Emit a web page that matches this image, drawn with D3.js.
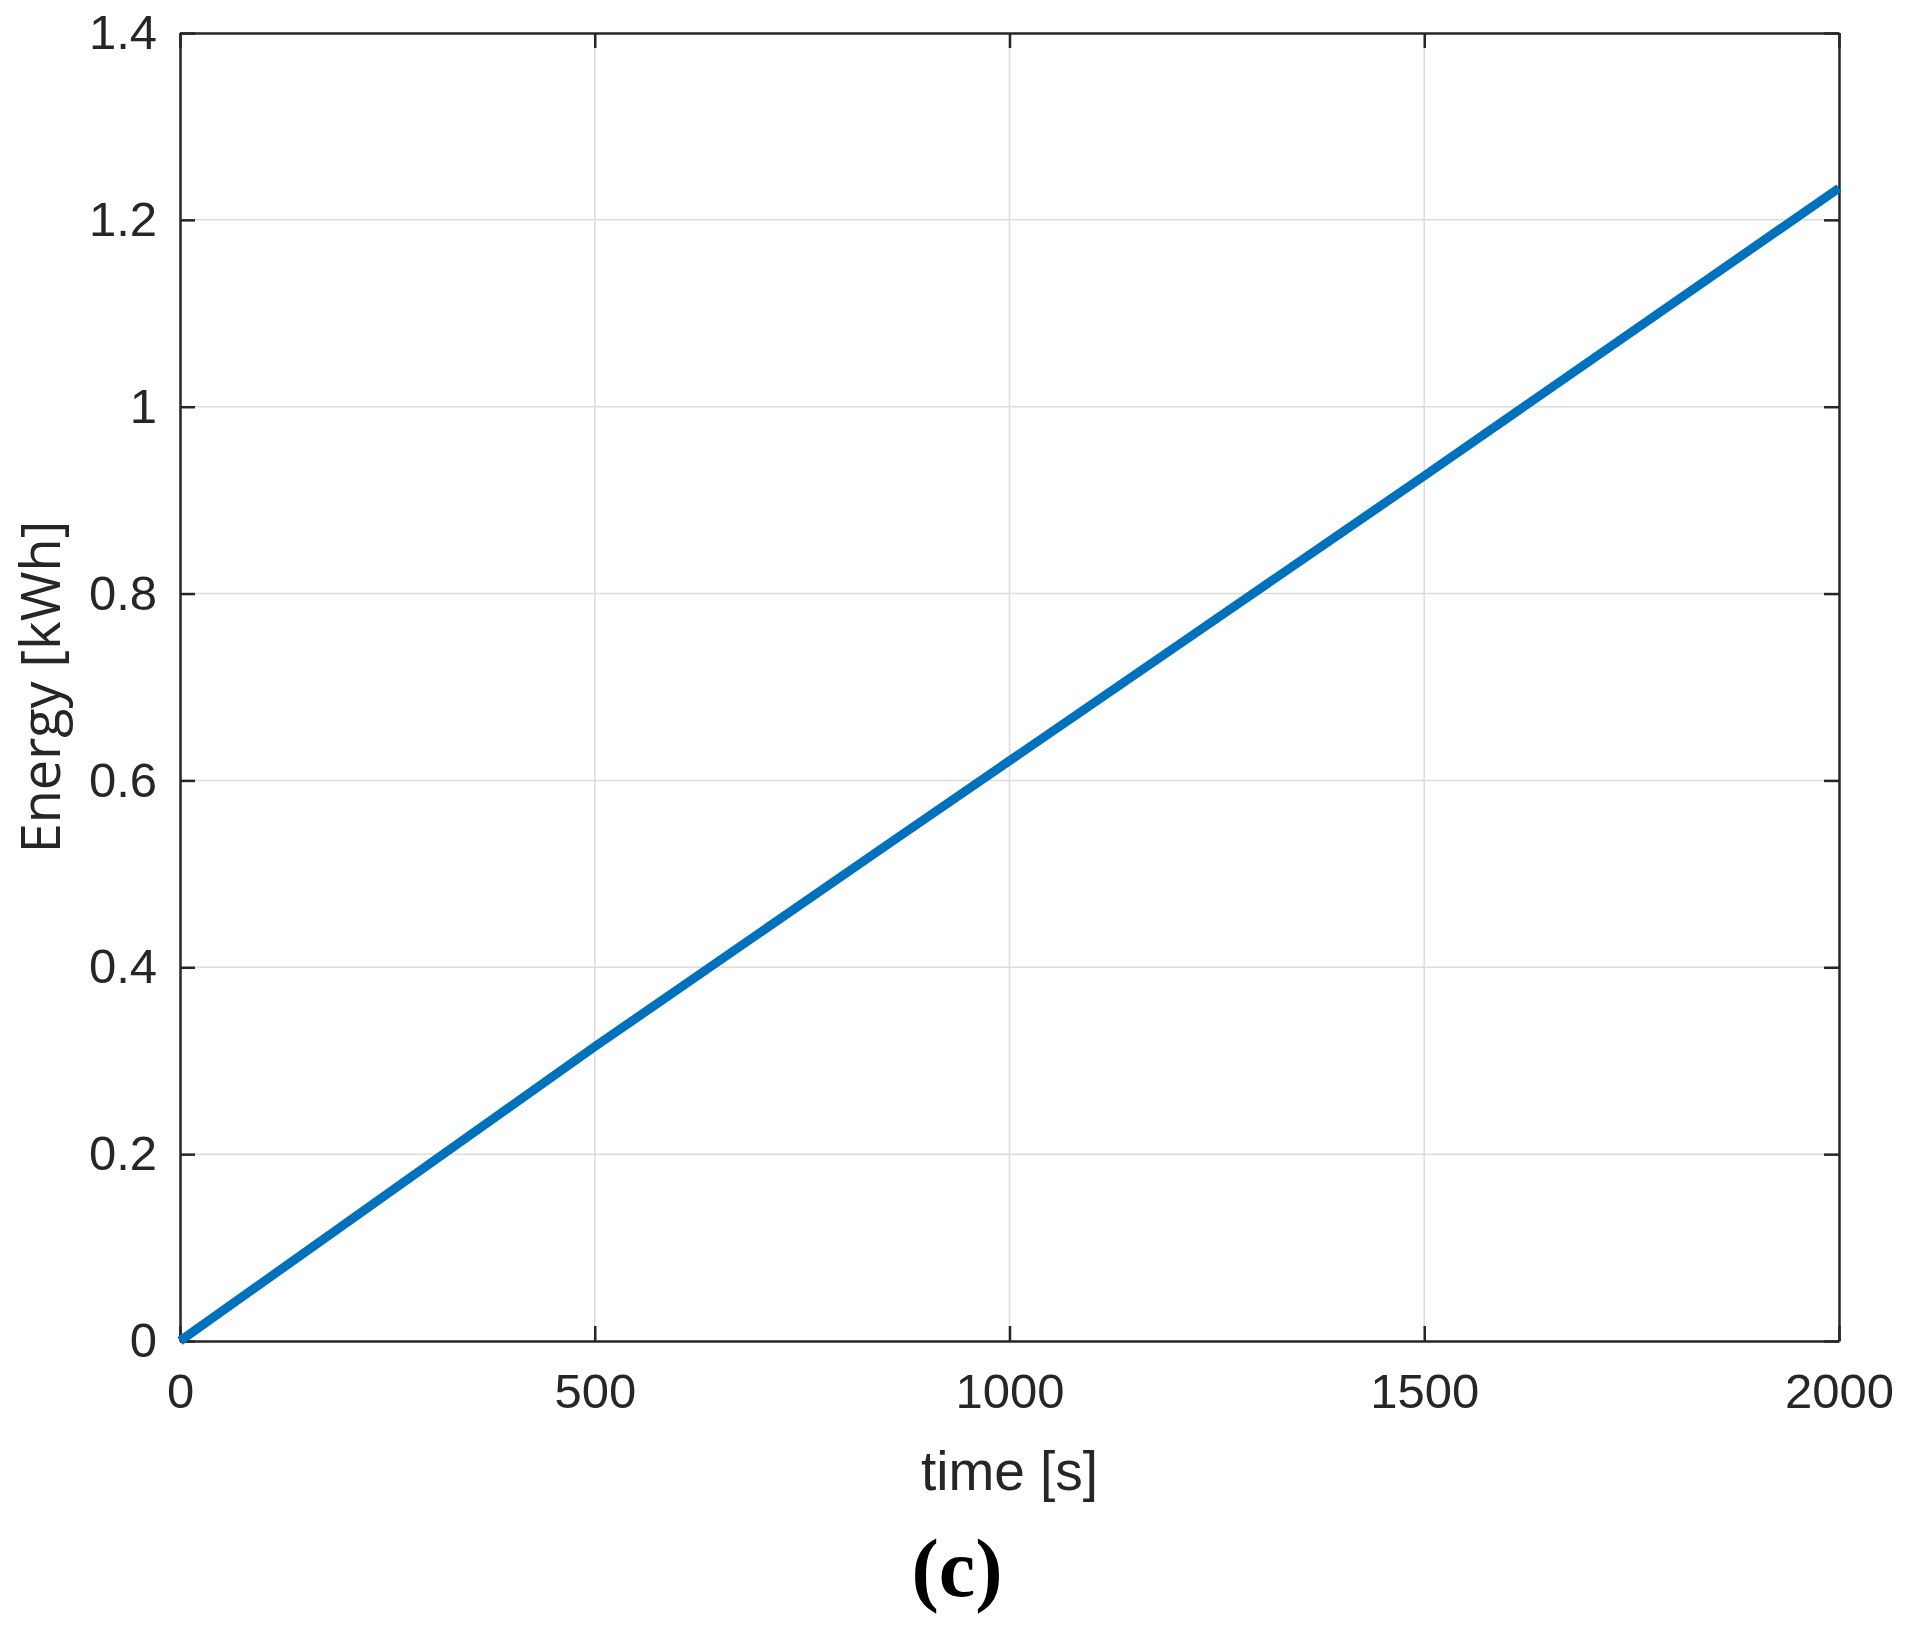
<!DOCTYPE html>
<html>
<head>
<meta charset="utf-8">
<script src="https://cdn.jsdelivr.net/npm/d3@7"></script>
<style>
  body { margin: 0; background: #fff; }
  svg { display: block; }
</style>
</head>
<body>
<div id="chart"></div>
<script>
// data
const timeValues = [0, 500, 1000, 1500, 2000];      // s
const energyValues = [0, 0.315, 0.621, 0.926, 1.234]; // kWh
const xTicks = [0, 500, 1000, 1500, 2000];
const yTicks = [0, 0.2, 0.4, 0.6, 0.8, 1, 1.2, 1.4];

const width = 1912;
const height = 1628;
const margin = { left: 180, right: 1912 - 1839, top: 33, bottom: 1628 - 1341 };

const ink = '#262626';

const svg = d3.select('#chart').append('svg')
  .attr('width', width)
  .attr('height', height);

const xScale = d3.scaleLinear()
  .domain([0, 2000])
  .range([margin.left, width - margin.right]);

const yScale = d3.scaleLinear()
  .domain([0, 1.4])
  .range([height - margin.bottom, margin.top]);

const x0 = xScale.range()[0], x1 = xScale.range()[1];
const y0 = yScale.range()[0], y1 = yScale.range()[1];

// grid
svg.append('g')
  .selectAll('line.gx')
  .data(xTicks.slice(1, -1))
  .join('line')
    .attr('x1', d => xScale(d)).attr('x2', d => xScale(d))
    .attr('y1', y0).attr('y2', y1)
    .attr('stroke', '#dcdcdc').attr('stroke-width', 1.5);

svg.append('g')
  .selectAll('line.gy')
  .data(yTicks.slice(1, -1))
  .join('line')
    .attr('x1', x0).attr('x2', x1)
    .attr('y1', d => yScale(d)).attr('y2', d => yScale(d))
    .attr('stroke', '#dcdcdc').attr('stroke-width', 1.5);

// axes (inward ticks, box on)
const fontTicks = '"Liberation Sans", Arial, sans-serif';

const xAxis = svg.append('g')
  .attr('transform', `translate(0,${y0})`)
  .call(d3.axisBottom(xScale).tickValues(xTicks).tickSizeInner(-15).tickSizeOuter(0).tickPadding(32)
    .tickFormat(d3.format('d')));

const xAxisTop = svg.append('g')
  .attr('transform', `translate(0,${y1})`)
  .call(d3.axisTop(xScale).tickValues(xTicks).tickSizeInner(-15).tickSizeOuter(0).tickFormat(''));

const yAxis = svg.append('g')
  .attr('transform', `translate(${x0},0)`)
  .call(d3.axisLeft(yScale).tickValues(yTicks).tickSizeInner(-15).tickSizeOuter(0).tickPadding(23)
    .tickFormat(d => d3.format('')(+d.toFixed(1))));

const yAxisRight = svg.append('g')
  .attr('transform', `translate(${x1},0)`)
  .call(d3.axisRight(yScale).tickValues(yTicks).tickSizeInner(-15).tickSizeOuter(0).tickFormat(''));

[xAxis, xAxisTop, yAxis, yAxisRight].forEach(g => {
  g.select('.domain').attr('stroke', ink).attr('stroke-width', 2.5);
  g.selectAll('.tick line').attr('stroke', ink).attr('stroke-width', 2.5);
  g.selectAll('.tick text')
    .attr('fill', ink)
    .style('font-family', fontTicks)
    .style('font-size', '49px');
});

// series
const points = timeValues.map((t, i) => [t, energyValues[i]]);
const line = d3.line()
  .x(d => xScale(d[0]))
  .y(d => yScale(d[1]))
  .curve(d3.curveMonotoneX);

svg.append('path')
  .datum(points)
  .attr('fill', 'none')
  .attr('stroke', '#0072BD')
  .attr('stroke-width', 9)
  .attr('d', line);

// labels
svg.append('text')
  .attr('x', (x0 + x1) / 2)
  .attr('y', 1490)
  .attr('text-anchor', 'middle')
  .attr('fill', ink)
  .style('font-family', fontTicks)
  .style('font-size', '55px')
  .text('time [s]');

svg.append('text')
  .attr('transform', `translate(60,${(y0 + y1) / 2}) rotate(-90)`)
  .attr('text-anchor', 'middle')
  .attr('fill', ink)
  .style('font-family', '"Open Sans", "Noto Sans", sans-serif')
  .style('font-size', '54px')
  .text('Energy [kWh]');

svg.append('text')
  .attr('x', 957)
  .attr('y', 1596)
  .attr('text-anchor', 'middle')
  .attr('fill', '#000')
  .style('font-family', '"Liberation Serif", "DejaVu Serif", serif')
  .style('font-weight', 'bold')
  .style('font-size', '82px')
  .text('(c)');
</script>
</body>
</html>
